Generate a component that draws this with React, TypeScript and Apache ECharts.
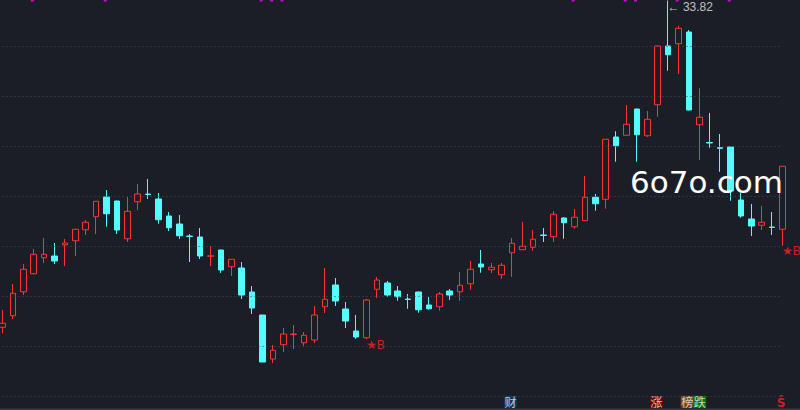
import React, { useEffect, useRef } from "react";
import * as echarts from "echarts";

// ---- data ----
const categories = [
  "1","2","3","4","5","6","7","8","9","10","11","12","13","14","15","16","17","18","19","20",
  "21","22","23","24","25","26","27","28","29","30","31","32","33","34","35","36","37","38","39","40",
  "41","42","43","44","45","46","47","48","49","50","51","52","53","54","55","56","57","58","59","60",
  "61","62","63","64","65","66","67","68","69","70","71","72","73","74","75","76",
];

const opens = [
  20.75, 21.21, 22.17, 22.89, 23.53, 23.6, 24.05, 24.21, 24.65, 25.17,
  25.96, 25.8, 24.29, 25.77, 26.08, 25.88, 25.2, 24.88, 24.4, 24.36,
  23.59, 23.84, 23.17, 23.12, 22.16, 21.24, 19.48, 20.05, 20.46, 20.13,
  20.24, 21.57, 22.44, 21.48, 20.6, 20.33, 22.27, 22.52, 22.2, 21.88,
  22.16, 21.64, 21.57, 22.2, 22.17, 22.49, 23.28, 23.05, 22.85, 23.73,
  23.85, 23.95, 24.44, 24.37, 25.12, 24.77, 25.01, 25.95, 25.87, 28.36,
  28.43, 29.48, 28.41, 29.65, 32.0, 32.09, 32.56, 28.85, 28.14, 27.93,
  27.96, 25.84, 25.08, 24.83, 24.76, 24.67,
];
const closes = [
  20.91, 22.11, 23.07, 23.67, 23.67, 23.4, 24.12, 24.67, 24.95, 25.79,
  25.29, 24.64, 25.39, 26.08, 26.06, 25.05, 24.73, 24.41, 24.38, 23.6,
  23.61, 23.04, 23.47, 22.04, 21.52, 19.36, 19.83, 20.48, 20.48, 20.43,
  21.24, 21.87, 21.8, 21.0, 20.36, 21.84, 22.64, 22.04, 21.97, 21.86,
  21.45, 21.49, 22.08, 22.04, 22.43, 23.07, 23.16, 23.15, 23.23, 24.11,
  23.99, 24.27, 24.42, 25.27, 24.93, 25.15, 25.95, 25.69, 28.27, 28.01,
  28.87, 28.45, 29.07, 32.0, 31.65, 32.71, 29.44, 29.15, 28.12, 27.91,
  26.2, 25.2, 24.8, 24.95, 24.74, 27.19,
];
const lows = [
  20.51, 21.08, 22.04, 22.87, 23.32, 23.28, 23.2, 23.6, 24.44, 24.48,
  24.77, 24.48, 24.16, 25.44, 25.88, 24.89, 24.6, 24.28, 23.36, 23.48,
  23.2, 22.92, 22.8, 21.88, 21.28, 19.36, 19.32, 19.76, 19.88, 20.0,
  20.12, 21.32, 21.6, 20.72, 20.28, 20.28, 21.92, 21.96, 21.81, 21.49,
  21.33, 21.45, 21.41, 21.84, 21.81, 22.25, 22.93, 22.92, 22.69, 22.77,
  23.84, 23.81, 24.16, 24.16, 24.29, 24.69, 25.0, 25.41, 25.49, 27.37,
  28.42, 27.37, 28.37, 29.17, 31.01, 30.88, 29.43, 27.44, 27.93, 26.97,
  25.81, 25.13, 24.4, 24.64, 24.44, 24.01,
];
const highs = [
  21.44, 22.48, 23.28, 23.88, 24.32, 24.12, 24.28, 24.68, 25.04, 25.8,
  26.24, 25.81, 25.96, 26.48, 26.68, 26.12, 25.36, 25.24, 24.48, 24.72,
  24.0, 23.85, 23.48, 23.36, 22.4, 21.24, 20.04, 20.72, 20.84, 20.56,
  21.6, 23.12, 22.72, 21.76, 21.24, 21.88, 22.76, 22.6, 22.4, 22.08,
  22.17, 21.96, 22.16, 22.28, 22.96, 23.4, 23.84, 23.32, 23.32, 24.32,
  24.96, 24.64, 24.72, 25.4, 25.15, 25.48, 26.8, 26.08, 28.28, 28.59,
  29.64, 29.49, 29.4, 32.01, 33.82, 32.81, 32.64, 30.31, 29.32, 28.48,
  27.97, 26.12, 25.68, 25.6, 25.36, 27.2,
];

// dotted price grid levels
const gridLevels = [18, 20, 22, 24, 26, 28, 30, 32];
// visible price window
const yMin = 17.44;
const yMax = 33.84;

// magenta signal ticks along the top edge (candle indices)
const signalIdx = [3, 10, 25, 26, 27, 55, 60, 61, 65, 70];

// buy markers "★B" under candle lows
const buyIdx = [35, 75];

// highest price annotation
const maxIdx = 64;
const maxPrice = 33.82;

// event badges along the bottom
const badgeIdx = [49, 63, 66, 67, 75];
const badgeText = ["财", "涨", "榜", "跌", "Ŝ"];
const badgeStyle = ["cai", "zhang", "bang", "die", "s"];
const badgeLevel = 17.77;

const BG = "#1b1e26";
const RED = "#ff3333";
const CYAN = "#54fcfc";

export default function App() {
  const ref = useRef<HTMLDivElement>(null);

  useEffect(() => {
    if (!ref.current) return;
    const chart = echarts.init(ref.current, undefined, { renderer: "svg" });

    const candles = opens.map((o, i) => [o, closes[i], lows[i], highs[i]]);
    const badgeOffsets = [-1.7, -1.3, -1.7, 0.4, -1.5];
    const box = { color: "#f0f0f0", fontSize: 12, lineHeight: 12, padding: [0, 0.5, 0, 0.5] };

    chart.setOption({
      animation: false,
      backgroundColor: BG,
      grid: { left: 2.5, right: 17.5, top: 0, bottom: 0 },
      xAxis: {
        type: "category",
        data: categories,
        boundaryGap: false,
        show: false,
      },
      yAxis: {
        type: "value",
        min: yMin,
        max: yMax,
        show: false,
        splitLine: { show: false },
      },
      graphic: [
        {
          type: "text",
          left: 630,
          top: 166,
          silent: true,
          z: 10,
          style: {
            text: "6o7o.com",
            fill: "#ffffff",
            font: "31px 'DejaVu Sans'",
          },
        },
        {
          type: "rect",
          shape: { x: 0, y: 408.5, width: 800, height: 2 },
          style: { fill: "#3a3d46" },
          silent: true,
        },
      ],
      series: [
        {
          type: "candlestick",
          data: candles,
          barWidth: 6,
          clip: false,
          itemStyle: {
            color: BG,
            color0: CYAN,
            borderColor: RED,
            borderColor0: CYAN,
            borderWidth: 1,
          },
          markLine: {
            silent: true,
            symbol: "none",
            label: { show: false },
            lineStyle: { color: "#464a53", width: 1, type: [1, 3] },
            data: gridLevels.map((v) => ({ yAxis: v })),
          },
          z: 2,
        },
        {
          type: "scatter",
          data: signalIdx.map((i) => [i, yMax]),
          symbol: "rect",
          symbolSize: [3, 3],
          symbolOffset: [-1.3, 0],
          itemStyle: { color: "#ff00ff" },
          clip: false,
          silent: true,
        },
        {
          type: "scatter",
          data: buyIdx.map((i) => [i, lows[i]]),
          symbol: "rect",
          symbolSize: 1,
          clip: false,
          itemStyle: { color: "rgba(0,0,0,0)" },
          label: {
            show: true,
            formatter: "★B",
            position: [0, 0],
            color: "#ff2020",
            fontSize: 12,
            fontFamily: "'Liberation Sans', 'DejaVu Sans', sans-serif",
          },
          silent: true,
        },
        {
          type: "scatter",
          data: [[maxIdx, maxPrice]],
          symbol: "rect",
          symbolSize: 1,
          itemStyle: { color: "rgba(0,0,0,0)" },
          label: {
            show: true,
            formatter: "← " + maxPrice.toFixed(2),
            position: "right",
            distance: 0,
            offset: [-1, 6],
            color: "#e8e8e8",
            fontSize: 12,
            fontFamily: "'Liberation Sans', 'DejaVu Sans', sans-serif",
          },
          silent: true,
        },
        {
          type: "scatter",
          data: badgeIdx.map((i, k) => ({
            value: [i, badgeLevel],
            label: {
              formatter: "{" + badgeStyle[k] + "|" + badgeText[k] + "}",
              offset: [badgeOffsets[k], 0],
            },
          })),
          symbol: "rect",
          symbolSize: 1,
          clip: false,
          itemStyle: { color: "rgba(0,0,0,0)" },
          label: {
            show: true,
            position: "inside",
            fontFamily: "'Noto Sans CJK SC', 'DejaVu Sans', sans-serif",
            rich: {
              cai: { ...box, backgroundColor: "#0c3b6e" },
              zhang: { ...box, backgroundColor: "#7a0000" },
              bang: { ...box, backgroundColor: "#8a5214" },
              die: { ...box, backgroundColor: "#0a8a0a" },
              s: { ...box, color: "#ff2020", fontWeight: "bold" },
            },
          },
          silent: true,
        },
      ],
    });

    return () => chart.dispose();
  }, []);

  return (
    <div
      ref={ref}
      style={{ position: "fixed", left: 0, top: 0, width: 800, height: 410 }}
    />
  );
}
